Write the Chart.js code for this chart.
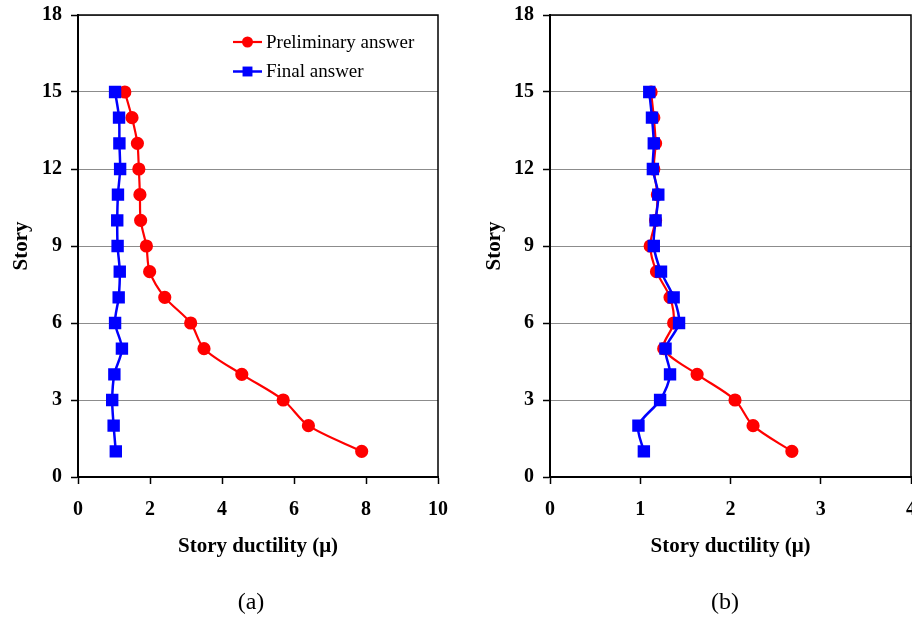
<!DOCTYPE html>
<html>
<head>
<meta charset="utf-8">
<script src="https://cdn.jsdelivr.net/npm/chart.js@4.4.1/dist/chart.umd.min.js"></script>
<style>
  html, body { margin: 0; padding: 0; background: #fff; }
  #page { position: relative; width: 912px; height: 618px; overflow: hidden; }
  .box { position: absolute; top: 0; width: 456px; height: 618px; }
  .cap { position: absolute; top: 588px; width: 80px; text-align: center;
         font-family: "Liberation Serif", "Times New Roman", serif; font-size: 24px; color: #000; }
</style>
</head>
<body>
<div id="page">
  <div class="box" style="left:0"><canvas id="chartA"></canvas></div>
  <div class="box" style="left:456px"><canvas id="chartB"></canvas></div>
  <div class="cap" style="left:211px">(a)</div>
  <div class="cap" style="left:685px">(b)</div>
</div>
<script>
// story numbers, bottom to top
const stories = [1, 2, 3, 4, 5, 6, 7, 8, 9, 10, 11, 12, 13, 14, 15];

// (a)
const prelimA = [7.88, 6.40, 5.70, 4.55, 3.50, 3.13, 2.41, 1.99, 1.90, 1.74, 1.72, 1.69, 1.65, 1.50, 1.30];
const finalA = [1.05, 0.99, 0.95, 1.01, 1.22, 1.03, 1.13, 1.16, 1.10, 1.09, 1.11, 1.17, 1.15, 1.14, 1.03];

// (b)
const prelimB = [2.68, 2.25, 2.05, 1.63, 1.26, 1.37, 1.33, 1.18, 1.11, 1.17, 1.19, 1.15, 1.17, 1.15, 1.12];
const finalB = [1.04, 0.98, 1.22, 1.33, 1.28, 1.43, 1.37, 1.23, 1.15, 1.17, 1.20, 1.14, 1.15, 1.13, 1.10];

const seriesNames = ["Preliminary answer", "Final answer"];
const yTicks = [0, 3, 6, 9, 12, 15, 18];

const serif = "'Liberation Serif', 'Times New Roman', serif";

const toPoints = (xs) => xs.map((v, i) => ({ x: v, y: stories[i] }));

// box round the plot area (top and right edges)
const framePlugin = {
  id: "frame",
  afterDatasetsDraw(chart) {
    const { ctx, chartArea: a } = chart;
    ctx.save();
    ctx.strokeStyle = "#000";
    ctx.lineWidth = 1.5;
    ctx.beginPath();
    ctx.moveTo(a.left, a.top);
    ctx.lineTo(a.right, a.top);
    ctx.lineTo(a.right, a.bottom);
    ctx.stroke();
    ctx.restore();
  },
};

// Excel-like legend inside the plot: line + marker + label
const insideLegend = {
  id: "insideLegend",
  afterDraw(chart, args, opts) {
    if (!opts.show) return;
    const { ctx, chartArea: a } = chart;
    const x0 = a.left + opts.dx;
    ctx.save();
    chart.data.datasets.forEach((ds, i) => {
      const y = a.top + opts.dy + i * opts.gap;
      ctx.strokeStyle = ds.borderColor;
      ctx.lineWidth = ds.borderWidth;
      ctx.beginPath();
      ctx.moveTo(x0, y);
      ctx.lineTo(x0 + 29, y);
      ctx.stroke();
      ctx.fillStyle = ds.backgroundColor;
      const cx = x0 + 14.5;
      if (ds.pointStyle === "rect") {
        const s = ds.pointRadius * Math.SQRT1_2;
        ctx.fillRect(cx - s, y - s, 2 * s, 2 * s);
      } else {
        ctx.beginPath();
        ctx.arc(cx, y, ds.pointRadius, 0, Math.PI * 2);
        ctx.fill();
      }
      ctx.fillStyle = "#000";
      ctx.font = "19px " + serif;
      ctx.textBaseline = "middle";
      ctx.textAlign = "left";
      ctx.fillText(ds.label, x0 + 33, y + 1);
    });
    ctx.restore();
  },
};

const makeChart = (id, prelim, fin, xMax, xStep, yWidth, padRight, yTitlePad, legend) => {
  const config = {
    type: "scatter",
    data: {
      datasets: [
        {
          label: seriesNames[0],
          data: toPoints(prelim),
          showLine: true,
          borderColor: "#ff0000",
          backgroundColor: "#ff0000",
          borderWidth: 2.2,
          pointStyle: "circle",
          pointRadius: 5.5,
          pointHoverRadius: 5.5,
          tension: 0.3,
          order: 1,
        },
        {
          label: seriesNames[1],
          data: toPoints(fin),
          showLine: true,
          borderColor: "#0000ff",
          backgroundColor: "#0000ff",
          borderWidth: 2.5,
          pointStyle: "rect",
          pointRadius: 7,
          pointHoverRadius: 7,
          tension: 0.3,
          order: 0,
        },
      ],
    },
    options: {
      responsive: true,
      maintainAspectRatio: false,
      animation: false,
      layout: { autoPadding: false, padding: { top: 15, right: padRight, bottom: 51, left: 0 } },
      plugins: {
        legend: { display: false },
        tooltip: { enabled: false },
        insideLegend: legend,
      },
      scales: {
        x: {
          type: "linear",
          min: 0,
          max: xMax,
          afterFit: (s) => { s.height = 90; s.paddingLeft = 0; s.paddingRight = 0; },
          ticks: {
            stepSize: xStep,
            padding: 14,
            color: "#000",
            font: { family: serif, size: 20, weight: "bold" },
          },
          grid: { drawOnChartArea: false, tickLength: 7, tickColor: "#000", tickWidth: 1.5 },
          border: { color: "#000", width: 2 },
          title: {
            display: true,
            text: "Story ductility (μ)",
            color: "#000",
            font: { family: serif, size: 21, weight: "bold" },
            padding: { top: 0, bottom: 8 },
          },
        },
        y: {
          type: "linear",
          min: 0,
          max: 18,
          afterFit: (s) => { s.width = yWidth; s.paddingTop = 0; s.paddingBottom = 0; },
          afterBuildTicks: (s) => { s.ticks = yTicks.map((v) => ({ value: v })); },
          ticks: {
            padding: 9,
            color: "#000",
            font: { family: serif, size: 20, weight: "bold" },
          },
          grid: { color: "#8c8c8c", lineWidth: 1, tickLength: 7, tickColor: "#000", tickWidth: 1.5 },
          border: { color: "#000", width: 2 },
          title: {
            display: true,
            text: "Story",
            color: "#000",
            font: { family: serif, size: 21, weight: "bold" },
            padding: { top: yTitlePad, bottom: 0 },
          },
        },
      },
    },
    plugins: [framePlugin, insideLegend],
  };
  return new Chart(document.getElementById(id).getContext("2d"), config);
};

makeChart("chartA", prelimA, finalA, 10, 2, 78, 18, 9, { show: true, dx: 155, dy: 27, gap: 29.5 });
makeChart("chartB", prelimB, finalB, 4, 1, 94, 1, 26, { show: false });
</script>
</body>
</html>
